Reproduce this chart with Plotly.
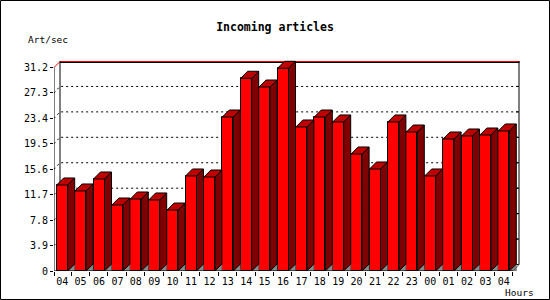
import plotly.graph_objects as go

hours = ["04", "05", "06", "07", "08", "09", "10", "11", "12", "13", "14", "15", "16",
         "17", "18", "19", "20", "21", "22", "23", "00", "01", "02", "03", "04"]
values = [13.19, 12.27, 14.11, 10.12, 11.04, 10.89, 9.35, 14.57, 14.41, 23.61, 29.55, 28.21, 31.08,
          22.08, 23.61, 22.85, 17.94, 15.64, 22.85, 21.31, 14.57, 20.24, 20.70, 20.85, 21.47]
y_ticks = [0, 3.9, 7.8, 11.7, 15.6, 19.5, 23.4, 27.3, 31.2]
y_tick_text = ["0", "3.9", "7.8", "11.7", "15.6", "19.5", "23.4", "27.3", "31.2"]

W, H = 550, 300
ML, MR, MT, MB = 54, 30, 58, 29
PX_X = 18.4
PX_Y = 203.5 / 31.2
X0 = -0.5
X1 = X0 + (W - ML - MR) / PX_X
YMAX = (H - MT - MB) / PX_Y

BAR_W = 11 / PX_X
BAR_OFF = -1 / PX_X
BDX, BDY = 7 / PX_X, 7 / PX_Y      # bar depth
PDX, PDY = 6 / PX_X, 6.5 / PX_Y    # plane depth
XF_END = X0 + 459 / PX_X            # end of front x axis
YTOP = y_ticks[-1]

n = len(values)
xs = [i + BAR_OFF for i in range(n)]
BL, BR = X0 + PDX, XF_END + PDX

fig = go.Figure()

# front faces
fig.add_trace(go.Bar(x=xs, y=values, width=BAR_W,
                     marker=dict(color="#FF0000", line=dict(color="black", width=1)),
                     showlegend=False, hoverinfo="skip"))

# side / top / floor faces, one trace per bar
for x, v in zip(xs, values):
    r = x + BAR_W / 2
    l = x - BAR_W / 2
    fig.add_trace(go.Scatter(x=[r, r + BDX, r + BDX, r], y=[0, BDY, 0, 0], mode="lines",
                             fill="toself", fillcolor="#8C8C8C",
                             line=dict(color="#5A5A5A", width=0.6),
                             showlegend=False, hoverinfo="skip"))
    fig.add_trace(go.Scatter(x=[r, r + BDX, r + BDX, r, r], y=[0, BDY, v + BDY, v, 0], mode="lines",
                             fill="toself", fillcolor="#800000", line=dict(color="black", width=1),
                             showlegend=False, hoverinfo="skip"))
    fig.add_trace(go.Scatter(x=[l, r, r + BDX, l + BDX, l], y=[v, v, v + BDY, v + BDY, v], mode="lines",
                             fill="toself", fillcolor="#BF0000", line=dict(color="black", width=1),
                             showlegend=False, hoverinfo="skip"))

pw = (W - ML - MR)
ph = (H - MT - MB)


def px_x(p):
    return (p - ML) / pw


def px_y(p):
    return (H - MB - p) / ph


shapes = []
# gridlines (dotted) on back plane with diagonal start
for v in y_ticks[1:-1]:
    shapes.append(dict(type="path", xref="x", yref="y", layer="below",
                       path=f"M {X0},{v} L {BL},{v + PDY} L {BR},{v + PDY}",
                       line=dict(color="black", width=1, dash="2px,3px")))
    shapes.append(dict(type="line", xref="x", yref="y", layer="below",
                       x0=BR - 3 / PX_X, x1=BR, y0=v + PDY, y1=v + PDY,
                       line=dict(color="black", width=1)))
# back plane frame
shapes.append(dict(type="line", xref="x", yref="y", layer="below",
                   x0=BL, x1=BL, y0=PDY, y1=YTOP + PDY, line=dict(color="black", width=1)))
shapes.append(dict(type="line", xref="x", yref="y", layer="below",
                   x0=BR, x1=BR, y0=PDY, y1=YTOP + PDY, line=dict(color="black", width=1)))
shapes.append(dict(type="line", xref="x", yref="y", layer="below",
                   x0=BL, x1=BR, y0=PDY, y1=PDY, line=dict(color="black", width=1)))
# top edge of back plane: black under red, and the red diagonal to the y axis top
shapes.append(dict(type="line", xref="paper", yref="paper", layer="below",
                   x0=px_x(60), x1=px_x(519.5), y0=px_y(62.5), y1=px_y(62.5),
                   line=dict(color="black", width=1)))
shapes.append(dict(type="line", xref="paper", yref="paper", layer="below",
                   x0=px_x(60), x1=px_x(519.5), y0=px_y(61.5), y1=px_y(61.5),
                   line=dict(color="#FF0000", width=1)))
shapes.append(dict(type="line", xref="paper", yref="paper", layer="below",
                   x0=px_x(54), x1=px_x(60), y0=px_y(67.5), y1=px_y(61.5),
                   line=dict(color="#FF0000", width=1)))
# floor right diagonal
shapes.append(dict(type="line", xref="x", yref="y", layer="above",
                   x0=XF_END, x1=BR, y0=0, y1=PDY, line=dict(color="#555555", width=1)))
# front axes
shapes.append(dict(type="line", xref="x", yref="y", layer="above",
                   x0=X0, x1=X0, y0=0, y1=YTOP, line=dict(color="black", width=1)))
shapes.append(dict(type="line", xref="x", yref="y", layer="above",
                   x0=X0, x1=XF_END, y0=0, y1=0, line=dict(color="black", width=1)))

# outer frame
shapes.append(dict(type="rect", xref="paper", yref="paper",
                   x0=px_x(0.5), x1=px_x(W - 0.5), y0=px_y(H - 0.5), y1=px_y(0.5),
                   line=dict(color="black", width=1)))

mono = "DejaVu Sans Mono"
fig.update_layout(
    width=W, height=H,
    margin=dict(l=ML, r=MR, t=MT, b=MB),
    paper_bgcolor="white", plot_bgcolor="white",
    shapes=shapes,
    bargap=0,
    title=dict(text="Incoming articles", x=0.5, xref="container", xanchor="center",
               y=1 - 26.7 / H, yref="container", yanchor="middle",
               font=dict(family=mono, size=11.5, color="black", weight="bold")),
    xaxis=dict(range=[X0, X1], tickvals=xs, ticktext=hours, ticks="",
               showline=False, showgrid=False, zeroline=False, fixedrange=True,
               ticklabelstandoff=3,
               minor=dict(tickmode="array", tickvals=[X0] + [i + 0.43 for i in range(n)],
                          ticks="outside", ticklen=4, tickcolor="black", showgrid=False),
               tickfont=dict(family=mono, size=10, color="black")),
    yaxis=dict(range=[0, YMAX], tickvals=y_ticks, ticktext=y_tick_text, ticks="outside",
               ticklen=3, tickcolor="black", showline=False, showgrid=False, zeroline=False,
               fixedrange=True, tickfont=dict(family=mono, size=10, color="black")),
    annotations=[
        dict(text="Art/sec", xref="paper", yref="paper", x=px_x(47.5), y=px_y(40),
             xanchor="center", yanchor="middle", showarrow=False,
             font=dict(family=mono, size=9.5, color="black")),
        dict(text="Hours", xref="paper", yref="paper", x=px_x(519), y=px_y(292),
             xanchor="center", yanchor="middle", showarrow=False,
             font=dict(family=mono, size=9.5, color="black")),
    ],
)

fig.write_html("out.html")
